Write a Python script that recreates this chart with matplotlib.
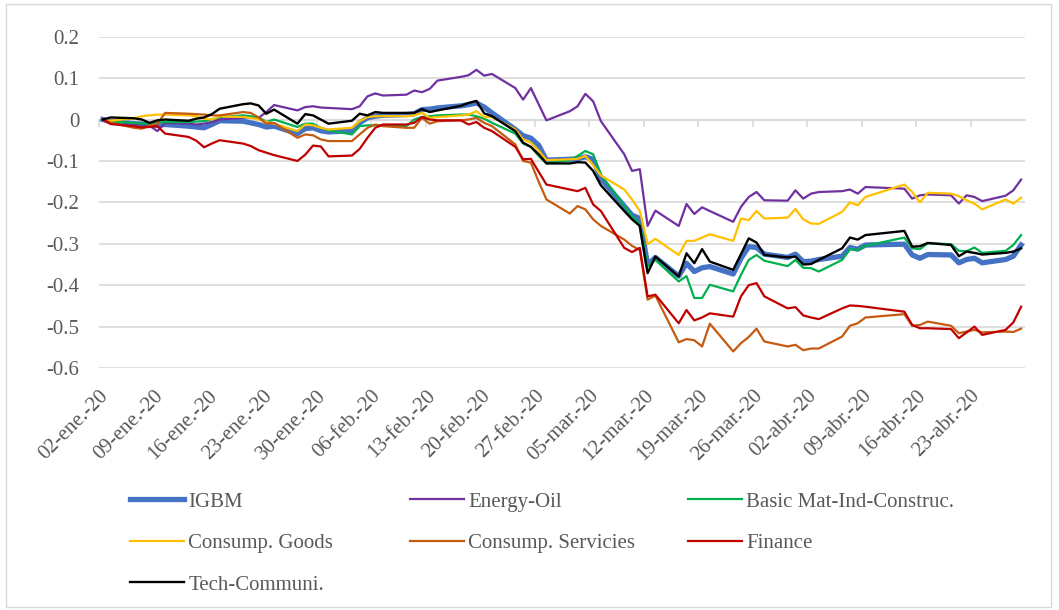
import matplotlib
matplotlib.use("Agg")
import matplotlib.pyplot as plt
import matplotlib.transforms as mtransforms
import pandas as pd
from matplotlib.patches import Rectangle

plt.rcParams['font.family'] = ['Liberation Serif', 'DejaVu Serif']

# trading days of the Madrid exchange, 02-ene-2020 .. 29-abr-2020
dates = pd.bdate_range("2020-01-02", "2020-04-29")
dates = dates[~dates.isin(pd.to_datetime(["2020-04-10", "2020-04-13"]))]

tick_dates = pd.date_range("2020-01-02", "2020-04-23", freq="7D")
tick_labels = [
    "02-ene.-20", "09-ene.-20", "16-ene.-20", "23-ene.-20", "30-ene.-20",
    "06-feb.-20", "13-feb.-20", "20-feb.-20", "27-feb.-20", "05-mar.-20",
    "12-mar.-20", "19-mar.-20", "26-mar.-20", "02-abr.-20", "09-abr.-20",
    "16-abr.-20", "23-abr.-20",
]
y_ticks = [0.2, 0.1, 0, -0.1, -0.2, -0.3, -0.4, -0.5, -0.6]
y_labels = ["0.2", "0.1", "0", "-0.1", "-0.2", "-0.3", "-0.4", "-0.5", "-0.6"]

igbm = [
    0, -0.005, -0.01, -0.011, -0.013, -0.014, -0.012, -0.016, -0.018, -0.02, -0.012,
    -0.003, -0.004, -0.008, -0.012, -0.018, -0.016, -0.034, -0.022, -0.02, -0.027, -0.03,
    -0.027, -0.008, 0.004, 0.008, 0.01, 0.012, 0.014, 0.024, 0.025, 0.028,
    0.033, 0.036, 0.04, 0.03, 0.016, -0.024, -0.039, -0.045, -0.062, -0.098,
    -0.096, -0.095, -0.09, -0.096, -0.143, -0.209, -0.231, -0.239, -0.351, -0.333, -0.378,
    -0.347, -0.367, -0.358, -0.355, -0.373, -0.335, -0.307, -0.309, -0.325, -0.333, -0.325,
    -0.343, -0.342, -0.338, -0.33, -0.309, -0.313, -0.303, -0.301, -0.327, -0.335,
    -0.326, -0.327, -0.346, -0.338, -0.335, -0.346, -0.338, -0.33, -0.303,
]
energy = [
    0, -0.005, -0.01, -0.012, -0.015, -0.028, -0.008, -0.01, -0.012, -0.01, -0.006,
    0.0, 0.004, 0.006, 0.004, 0.018, 0.035, 0.022, 0.03, 0.032, 0.029, 0.028,
    0.025, 0.032, 0.056, 0.063, 0.058, 0.06, 0.07, 0.066, 0.074, 0.094,
    0.103, 0.107, 0.12, 0.106, 0.11, 0.076, 0.048, 0.076, 0.037, -0.002,
    0.02, 0.032, 0.062, 0.044, -0.004, -0.084, -0.124, -0.12, -0.257, -0.22, -0.257,
    -0.204, -0.228, -0.212, -0.221, -0.247, -0.211, -0.187, -0.175, -0.195, -0.196, -0.171,
    -0.191, -0.179, -0.175, -0.173, -0.169, -0.179, -0.163, -0.167, -0.191, -0.183,
    -0.181, -0.183, -0.203, -0.183, -0.187, -0.197, -0.184, -0.171, -0.145,
]
basic = [
    0, -0.005, -0.008, -0.01, -0.01, -0.008, -0.006, -0.006, -0.005, -0.004, 0.0,
    0.006, 0.01, 0.008, 0.006, -0.006, 0.0, -0.018, -0.01, -0.01, -0.02, -0.026,
    -0.036, -0.016, -0.014, -0.014, -0.014, -0.016, 0.0, 0.006, 0.008, 0.01,
    0.012, 0.012, 0.008, 0.002, -0.008, -0.034, -0.058, -0.066, -0.088, -0.106,
    -0.098, -0.088, -0.076, -0.084, -0.133, -0.209, -0.233, -0.253, -0.355, -0.339, -0.391,
    -0.378, -0.431, -0.431, -0.399, -0.415, -0.375, -0.339, -0.327, -0.341, -0.354, -0.339,
    -0.358, -0.359, -0.367, -0.339, -0.313, -0.315, -0.305, -0.285, -0.311, -0.313,
    -0.299, -0.301, -0.317, -0.318, -0.309, -0.322, -0.317, -0.303, -0.279,
]
goods = [
    0, -0.003, 0.003, 0.008, 0.01, 0.012, 0.012, 0.01, 0.008, 0.002, 0.0,
    0.008, 0.006, 0.004, 0.0, -0.006, -0.01, -0.028, -0.012, -0.014, -0.02, -0.024,
    -0.02, -0.004, 0.006, 0.008, 0.008, 0.008, 0.01, 0.016, 0.004, 0.006,
    0.01, 0.012, 0.02, 0.006, 0.006, -0.024, -0.048, -0.056, -0.075, -0.098,
    -0.096, -0.095, -0.088, -0.11, -0.135, -0.169, -0.193, -0.221, -0.301, -0.288, -0.327,
    -0.293, -0.293, -0.285, -0.277, -0.293, -0.239, -0.243, -0.221, -0.239, -0.237, -0.216,
    -0.241, -0.251, -0.252, -0.223, -0.2, -0.207, -0.187, -0.157, -0.175, -0.2,
    -0.177, -0.179, -0.185, -0.195, -0.203, -0.217, -0.193, -0.203, -0.189,
]
services = [
    0, -0.008, -0.02, -0.022, -0.015, -0.01, 0.016, 0.014, 0.013, 0.012, 0.01,
    0.01, 0.018, 0.016, 0.005, -0.01, -0.008, -0.044, -0.036, -0.038, -0.048, -0.052,
    -0.052, -0.036, -0.02, -0.012, -0.016, -0.02, -0.02, 0.004, -0.01, -0.004,
    -0.002, 0.0, 0.004, -0.008, -0.016, -0.06, -0.1, -0.104, -0.15, -0.193,
    -0.227, -0.209, -0.217, -0.241, -0.257, -0.29, -0.305, -0.315, -0.435, -0.425, -0.538,
    -0.53, -0.533, -0.548, -0.493, -0.56, -0.54, -0.525, -0.505, -0.536, -0.548, -0.544,
    -0.557, -0.553, -0.553, -0.524, -0.498, -0.492, -0.478, -0.47, -0.498, -0.496,
    -0.488, -0.498, -0.516, -0.512, -0.508, -0.514, -0.512, -0.513, -0.505,
]
finance = [
    0, -0.011, -0.016, -0.019, -0.018, -0.016, -0.034, -0.042, -0.051, -0.067, -0.058,
    -0.05, -0.058, -0.064, -0.074, -0.08, -0.086, -0.1, -0.085, -0.063, -0.065, -0.089,
    -0.087, -0.071, -0.044, -0.02, -0.012, -0.012, -0.008, 0.006, 0.0, -0.002,
    -0.002, -0.012, -0.006, -0.02, -0.028, -0.066, -0.096, -0.095, -0.126, -0.157,
    -0.169, -0.173, -0.165, -0.205, -0.221, -0.31, -0.32, -0.31, -0.427, -0.423, -0.492,
    -0.46, -0.485, -0.478, -0.468, -0.476, -0.427, -0.4, -0.395, -0.427, -0.456, -0.453,
    -0.473, -0.478, -0.482, -0.456, -0.449, -0.45, -0.452, -0.464, -0.496, -0.504,
    -0.504, -0.506, -0.528, -0.514, -0.5, -0.52, -0.508, -0.49, -0.452,
]
tech = [
    0, 0.005, 0.003, 0.0, -0.008, -0.002, 0.0, -0.003, 0.002, 0.005, 0.013,
    0.026, 0.037, 0.039, 0.034, 0.014, 0.024, -0.01, 0.013, 0.01, 0.0, -0.01,
    -0.003, 0.014, 0.01, 0.018, 0.016, 0.016, 0.016, 0.025, 0.018, 0.022,
    0.033, 0.04, 0.045, 0.015, 0.008, -0.028, -0.056, -0.066, -0.084, -0.106,
    -0.106, -0.103, -0.104, -0.124, -0.159, -0.221, -0.241, -0.257, -0.371, -0.331, -0.379,
    -0.323, -0.347, -0.313, -0.343, -0.363, -0.325, -0.287, -0.297, -0.327, -0.333, -0.331,
    -0.35, -0.349, -0.339, -0.311, -0.285, -0.29, -0.279, -0.269, -0.307, -0.306,
    -0.298, -0.303, -0.33, -0.319, -0.322, -0.326, -0.322, -0.319, -0.311,
]

names = ["IGBM", "Energy-Oil", "Basic Mat-Ind-Construc.", "Consump. Goods",
         "Consump. Servicies", "Finance", "Tech-Communi."]
values = [igbm, energy, basic, goods, services, finance, tech]
colors = ["#4472C4", "#7030A0", "#00B050", "#FFC000", "#C55A11", "#C00000", "#000000"]
widths = [3.8, 1.6, 1.6, 1.6, 1.6, 1.6, 1.7]

W, H = 1059, 610
fig = plt.figure(figsize=(W / 100, H / 100), dpi=100)
ax = fig.add_axes([99 / W, 1 - 368 / H, (1025 - 99) / W, (368 - 36.7) / H])

lines = []
for name, vals, c, lw in zip(names, values, colors, widths):
    ln, = ax.plot(dates, vals, color=c, lw=lw, label=name, solid_joinstyle="round")
    lines.append(ln)

half = pd.Timedelta(hours=12)
ax.set_xlim(dates[0] - half, dates[-1] + half)
ax.set_ylim(-0.6, 0.2)
ax.set_yticks(y_ticks)
ax.set_yticklabels(y_labels)
ax.yaxis.grid(True, color="#D9D9D9", lw=1.2)
ax.set_axisbelow(True)
for s in ax.spines.values():
    s.set_visible(False)
ax.tick_params(axis="y", length=0, pad=14, labelsize=15, labelcolor="#595959")

ax.set_xticks(tick_dates)
ax.set_xticklabels(tick_labels, rotation=45, ha="right", va="center",
                   rotation_mode="anchor")
ax.tick_params(axis="x", length=0, pad=18, labelsize=15, labelcolor="#595959")
shift = mtransforms.ScaledTranslation(3 / 100, 0, fig.dpi_scale_trans)
for lab in ax.get_xticklabels():
    lab.set_transform(lab.get_transform() + shift)

# horizontal axis crosses at 0, with its small tick marks
sec = ax.secondary_xaxis((0 - (-0.6)) / 0.8)
sec.set_alignment("bottom")
sec.set_xticks(tick_dates - half)
sec.tick_params(axis="x", direction="out", length=5, width=1.2, color="#D9D9D9",
                labelbottom=False, labeltop=False)
sec.spines["bottom"].set_color("#D9D9D9")
sec.spines["bottom"].set_linewidth(1.2)

# legend: three columns laid out row by row
col_items = [[0, 3, 6], [1, 4], [2, 5]]
col_x = [130, 410, 688]
for items, x in zip(col_items, col_x):
    leg = fig.legend([lines[i] for i in items], [names[i] for i in items],
                     loc="upper left", bbox_to_anchor=(x / W, 1 - 492 / H),
                     frameon=False, fontsize=15, handlelength=2.6,
                     handletextpad=0.2, labelspacing=1.05, borderpad=0,
                     borderaxespad=0)
    for t in leg.get_texts():
        t.set_color("#595959")

fig.patches.append(Rectangle((6 / W, 3 / H), 1 - 14 / W, 1 - 7 / H,
                             transform=fig.transFigure, fill=False,
                             ec="#D9D9D9", lw=1))

fig.savefig("out.png", dpi=100)
